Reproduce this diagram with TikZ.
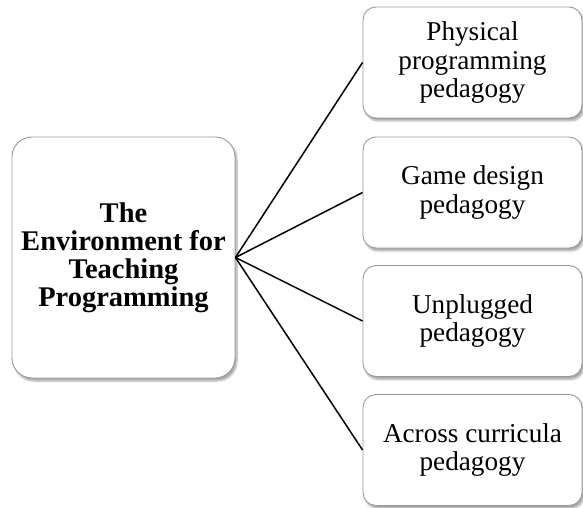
\documentclass[tikz,border=0pt]{standalone}
\usepackage{fontspec}
\setmainfont{Liberation Serif}
\usetikzlibrary{shadows.blur}
\tikzset{
  card/.style={draw=black!40, line width=0.9pt, fill=white, align=center,
    blur shadow={shadow xshift=2pt, shadow yshift=-3pt, shadow blur steps=6, shadow opacity=35},
    inner sep=0pt},
  hub/.style={card, rounded corners=20pt, minimum width=223pt, minimum height=241pt,
    font=\fontsize{28.5}{28}\selectfont\bfseries},
  leaf/.style={card, rounded corners=13pt, minimum width=219pt, minimum height=111pt,
    font=\fontsize{27.2}{28.8}\selectfont},
  link/.style={line width=1.5pt, black}
}
\begin{document}
\begin{tikzpicture}[x=1pt, y=1pt]
  \useasboundingbox (0,0) rectangle (583,507);
  \node[hub] (env) at (123.5,249.5) {The\\Environment for\\Teaching\\Programming};
  \node[leaf] (phys) at (472.5,444.5) {Physical\\programming\\pedagogy};
  \node[leaf] (game) at (472.5,314.5) {Game design\\pedagogy};
  \node[leaf] (unpl) at (472.5,186) {Unplugged\\pedagogy};
  \node[leaf] (cross) at (472.5,57) {Across curricula\\pedagogy};
  \foreach \t in {phys,game,unpl,cross}
    \draw[link] (env.east) -- (\t.west);
\end{tikzpicture}
\end{document}
